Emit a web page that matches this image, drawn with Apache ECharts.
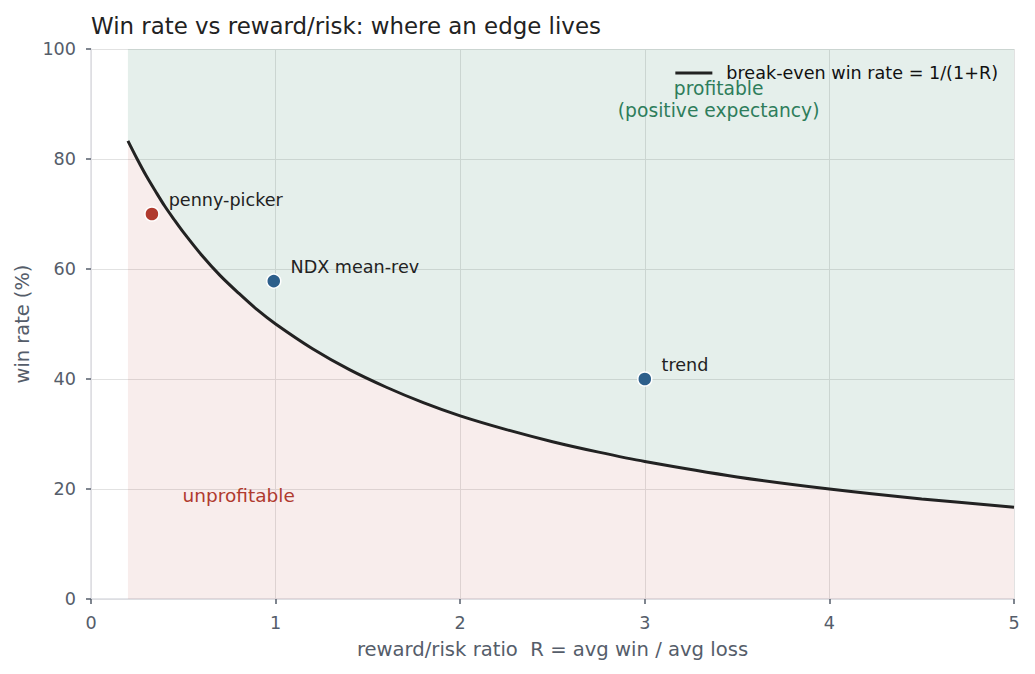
<!DOCTYPE html>
<html><head><meta charset="utf-8">
<script src="https://cdn.jsdelivr.net/npm/echarts@6/dist/echarts.min.js"></script>
<style>html,body{margin:0;padding:0;background:#fff;font-family:'DejaVu Sans'}#c{width:1035px;height:674px}</style>
</head><body><div id="c"></div>
<script>
// break-even curve: R values and win rate (%)
const curveR = [0.2,0.25,0.3,0.35,0.4,0.45,0.5,0.6,0.7,0.8,0.9,1.0,1.2,1.4,1.6,1.8,2.0,2.25,2.5,2.75,3.0,3.5,4.0,4.5,5.0];
const curveWin = [83.3,80.0,76.9,74.1,71.4,69.0,66.7,62.5,58.8,55.6,52.6,50.0,45.5,41.7,38.5,35.7,33.3,30.8,28.6,26.7,25.0,22.2,20.0,18.2,16.7];
// strategies
const stratNames = ['penny-picker','NDX mean-rev','trend'];
const stratR = [0.33,0.99,3.0];
const stratWin = [70,57.8,40];
const stratColors = ['#b03a2e','#2d5f8b','#2d5f8b'];
// annotation text
const profitText = 'profitable\n(positive expectancy)';
const profitPos = [3.4, 90.9];
const unprofitText = 'unprofitable';
const unprofitPos = [0.8, 18.9];

const font = 'DejaVu Sans';
const chart = echarts.init(document.getElementById('c'), null, {renderer:'svg'});

const curve = curveR.map((r,i)=>[r,curveWin[i]]);

chart.setOption({
  animation:false,
  textStyle:{fontFamily:font},
  title:{text:'Win rate vs reward/risk: where an edge lives',left:86,top:9,
    textStyle:{fontFamily:font,fontSize:22.9,fontWeight:'normal',color:'#222'}},
  grid:{left:91,right:21,top:49,bottom:75,containLabel:false},
  legend:{data:[{name:'break-even win rate = 1/(1+R)',icon:'rect'}],right:32,top:59,itemWidth:37,itemHeight:3,
    textStyle:{fontFamily:font,fontSize:17.6,color:'#111',padding:[0,0,0,9]}},
  xAxis:{type:'value',min:0,max:5,interval:1,
    name:'reward/risk ratio  R = avg win / avg loss',nameLocation:'middle',nameGap:40,
    nameTextStyle:{fontFamily:font,fontSize:19.6,color:'#555d6a'},
    axisLine:{show:true,lineStyle:{color:'#dcdde2',width:1.5}},
    axisTick:{show:true,length:5,lineStyle:{color:'#555d6a',width:1.5}},
    axisLabel:{fontFamily:font,fontSize:17.6,color:'#555d6a',margin:15},
    splitLine:{show:true,lineStyle:{color:'#e2e2e2',width:1}}},
  yAxis:{type:'value',min:0,max:100,interval:20,
    name:'win rate (%)',nameLocation:'middle',nameGap:59,nameRotate:90,
    nameTextStyle:{fontFamily:font,fontSize:19.4,color:'#555d6a'},
    axisLine:{show:true,lineStyle:{color:'#dcdde2',width:1.5}},
    axisTick:{show:true,length:5,lineStyle:{color:'#555d6a',width:1.5}},
    axisLabel:{fontFamily:font,fontSize:17.6,color:'#555d6a',margin:15},
    splitLine:{show:true,lineStyle:{color:'#e2e2e2',width:1}}},
  series:[
    {name:'lower',type:'line',data:curve,symbol:'none',smooth:0.3,
      lineStyle:{width:0},areaStyle:{color:'rgba(176,58,46,0.09)',opacity:1,origin:'start'},z:1,silent:true},
    {name:'upper',type:'line',data:curve,symbol:'none',smooth:0.3,
      lineStyle:{width:0},areaStyle:{color:'rgba(40,120,90,0.12)',opacity:1,origin:'end'},z:1,silent:true},
    {name:'break-even win rate = 1/(1+R)',type:'line',data:curve,symbol:'none',smooth:0.3,
      color:'#222',lineStyle:{color:'#222',width:3},z:3},
    {name:'strategies',type:'scatter',z:5,symbolSize:14,
      data:stratR.map((r,i)=>({value:[r,stratWin[i]],name:stratNames[i],
        itemStyle:{color:stratColors[i],borderColor:'#fff',borderWidth:1.5,opacity:1}})),
      label:{show:true,position:'right',distance:9,offset:[0,-14],formatter:p=>p.name,
        fontFamily:font,fontSize:17.6,color:'#222'}},
    {name:'annot',type:'scatter',symbolSize:0,z:6,silent:true,itemStyle:{opacity:1},
      data:[
        {value:profitPos,label:{show:true,position:'inside',formatter:profitText,color:'#2e7d5b',fontSize:18.7,lineHeight:22,align:'center',fontFamily:font}},
        {value:unprofitPos,label:{show:true,position:'inside',formatter:unprofitText,color:'#b03a2e',fontSize:18.5,align:'center',fontFamily:font}}
      ]}
  ]
});
</script></body></html>
